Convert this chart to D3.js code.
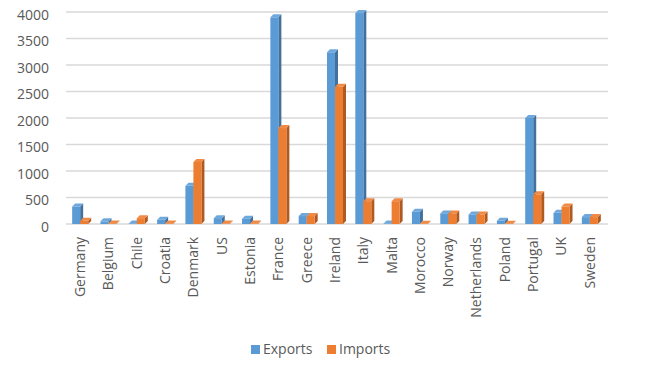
<!DOCTYPE html>
<html><head><meta charset="utf-8">
<script src="https://cdn.jsdelivr.net/npm/d3@7"></script>
<style>body{margin:0;background:#fff;} svg{display:block;font-family:"Open Sans",sans-serif;}</style>
</head><body>
<svg id="c" width="652" height="367"></svg>
<script>
const categories = ["Germany","Belgium","Chile","Croatia","Denmark","US","Estonia","France","Greece","Ireland","Italy","Malta","Morocco","Norway","Netherlands","Poland","Portugal","UK","Sweden"];
const exportsVals = [330,50,10,80,720,110,100,3900,150,3240,3980,10,230,200,180,60,2000,210,130];
const importsVals = [60,10,110,10,1170,10,10,1810,150,2590,430,430,5,200,180,5,560,330,130];
const yTicks = [0,500,1000,1500,2000,2500,3000,3500,4000];
const seriesNames = ["Exports","Imports"];
const colors = ["#5B9BD5","#ED7D31"];
const sideColors = ["#41719C","#AE5A21"];
const topColors = ["#6FA8DC","#F08A44"];

const svg = d3.select("#c");
const x = d3.scaleBand().domain(categories).range([66, 604]).padding(0);
const y = d3.scaleLinear().domain([0,4000]).range([224, 12]);

// gridlines
svg.append("g").selectAll("line").data(yTicks).join("line")
  .attr("x1",66).attr("x2",608)
  .attr("y1",d=>y(d)).attr("y2",d=>y(d))
  .attr("stroke","#D9D9D9").attr("stroke-width",1.6);

// y axis labels
const yAxis = d3.axisLeft(y).tickValues(yTicks).tickFormat(d3.format("d")).tickSize(0).tickPadding(0);
const ga = svg.append("g").attr("transform","translate(49,3)").call(yAxis);
ga.select(".domain").remove();
ga.selectAll("text").attr("fill","#595959").style("font-size","14px").style("font-family","Open Sans, sans-serif");

const bw = 8, d = 3;
const series = [exportsVals, importsVals];
series.forEach((vals, si) => {
  const g = svg.append("g");
  const data = categories.map((c,i)=>({c, v: vals[i]}));
  const bx = dd => x(dd.c) + x.bandwidth()/2 - bw + si*bw;
  g.selectAll("path.side").data(data).join("path").attr("class","side")
    .attr("d", dd => {
      const x0 = bx(dd)+bw, yt = y(dd.v), yb = y(0);
      return `M${x0},${yt}L${x0+d},${yt-d}L${x0+d},${yb-d}L${x0},${yb}Z`;
    }).attr("fill", sideColors[si]);
  g.selectAll("path.top").data(data).join("path").attr("class","top")
    .attr("d", dd => {
      const x0 = bx(dd), yt = y(dd.v);
      return `M${x0},${yt}L${x0+bw},${yt}L${x0+bw+d},${yt-d}L${x0+d},${yt-d}Z`;
    }).attr("fill", topColors[si]);
  g.selectAll("rect").data(data).join("rect")
    .attr("x", bx).attr("width", bw)
    .attr("y", dd => y(dd.v)).attr("height", dd => y(0)-y(dd.v))
    .attr("fill", colors[si]);
});

// x axis labels
const xAxis = d3.axisBottom(x).tickSize(0).tickPadding(0);
const gx = svg.append("g").attr("transform","translate(0,237)").call(xAxis);
gx.select(".domain").remove();
gx.selectAll("text")
  .attr("transform","rotate(-90)")
  .attr("text-anchor","end").attr("x",0).attr("y",0).attr("dy","0.35em")
  .attr("fill","#595959").style("font-size","14px").style("font-family","Open Sans, sans-serif");

// legend
const leg = svg.append("g");
const legX = [251, 327];
seriesNames.forEach((n,i)=>{
  leg.append("rect").attr("x",legX[i]).attr("y",345).attr("width",9).attr("height",9).attr("fill",colors[i]);
  leg.append("text").attr("x",legX[i]+12).attr("y",349.5).attr("dy","0.35em")
    .attr("fill","#595959").style("font-size","14px").text(n);
});
</script>
</body></html>
